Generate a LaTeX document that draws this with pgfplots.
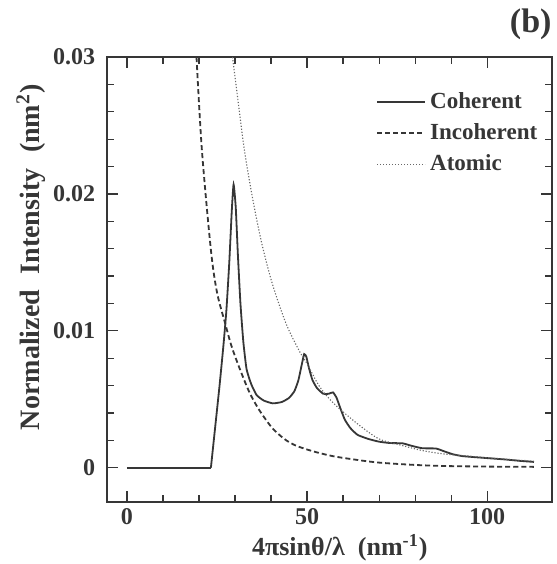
\documentclass[border=0pt]{standalone}
\usepackage{fontspec}
\setmainfont{Liberation Serif}
\usepackage{pgfplots}
\pgfplotsset{compat=1.18}
\definecolor{ink}{HTML}{363636}
\begin{document}
\begin{tikzpicture}
\begin{axis}[
    width=222pt, height=222pt, scale only axis,
    xmin=-5.5, xmax=118, ymin=-0.0025, ymax=0.03,
    xtick={0,50,100}, xticklabels={0,50,100},
    ytick={0,0.01,0.02,0.03}, yticklabels={0,0.01,0.02,0.03},
    minor x tick num=4, minor y tick num=4,
    tick align=inside, major tick length=5.5pt, minor tick length=3.5pt,
    axis line style={ink, line width=0.8pt},
    every tick/.style={ink, line width=0.6pt},
    ticklabel style={font=\bfseries\fontsize{12}{12}\selectfont, text=ink},
    yticklabel style={xshift=-2.5pt},
    scaled y ticks=false,
    xlabel={4πsinθ/λ\ \ (nm\textsuperscript{-1})},
    ylabel={Normalized\hspace{0.55em}Intensity\hspace{0.55em}(nm\textsuperscript{2})},
    xlabel style={font=\bfseries\fontsize{13}{13}\selectfont, text=ink,
        at={(axis description cs:0.523,0)}, anchor=center, yshift=-23pt},
    ylabel style={font=\bfseries\fontsize{14}{14}\selectfont, text=ink,
        at={([xshift=-38pt]axis description cs:0,0.55)}, anchor=center},
    legend style={at={(0.604,0.93)}, anchor=north west, draw=none, fill=none,
        font=\bfseries\fontsize{11.5}{11.5}\selectfont, text=ink,
        row sep=2pt, inner sep=0pt},
    legend cell align=left,
    legend image code/.code={\draw[#1] (0pt,0pt) -- (20pt,0pt); \path (0pt,0pt) -- (24pt,0pt);},
    clip=true,
]
\addplot[ink, line width=0.9pt, forget plot] coordinates {(0,0) (23.3,0)};
\addplot[ink, line width=0.9pt, smooth, tension=0.3] coordinates {
(23.3,0) (24.5,0.003) (25.7,0.006) (26.8,0.009)
(27.6,0.0115) (28.4,0.0150) (29.1,0.0188) (29.6,0.0207) (30.2,0.0190)
(30.8,0.0155) (31.5,0.0120) (32.3,0.0092) (33.2,0.0072) (34.5,0.0061)
(36,0.0053) (38,0.0049) (40.5,0.0047) (43,0.0048) (45,0.0051) (46.5,0.0056)
(47.6,0.0064) (48.5,0.0075) (49.2,0.0083) (49.8,0.0081) (50.5,0.0073)
(51.5,0.0064) (52.8,0.0058) (54.5,0.0054) (56,0.0054) (57.2,0.0055)
(58.2,0.0051) (59.3,0.0043) (60.5,0.0035) (62,0.0029) (64,0.0024)
(67,0.0021) (70,0.0019) (73,0.0018) (76.5,0.00178) (79,0.0016)
(82,0.00142) (85.8,0.0014) (88,0.0012) (90.5,0.00098) (93,0.00085)
(96,0.00078) (100,0.0007) (105,0.0006) (109,0.0005) (113,0.00042)
};
\addlegendentry{Coherent}
\addplot[ink, line width=0.9pt, dash pattern=on 2.5pt off 1.5pt, smooth] coordinates {
(19.3,0.0300) (20.8,0.0232) (23.3,0.0159) (25,0.0128) (27.3,0.0105)
(29,0.0089) (31.2,0.0073) (34,0.0055) (36.75,0.0042) (40,0.0030)
(42.3,0.0024) (44.2,0.0020) (47,0.0016) (51.6,0.0012) (57,0.00085)
(63,0.0006) (70,0.00037) (80,0.0002) (88.6,0.00012) (100,0.00008)
(113,0.00006)
};
\addlegendentry{Incoherent}
\addplot[ink!75, line width=0.55pt, dash pattern=on 0.6pt off 0.9pt, smooth] coordinates {
(29.3,0.0300) (30.5,0.0275) (32.6,0.0232) (35,0.0195) (37.5,0.0163)
(40.4,0.0134) (44.2,0.0105) (47.9,0.0085) (50,0.0076) (53.4,0.00595)
(57,0.0048) (60.8,0.0039) (65,0.0030) (70,0.0021) (76,0.00165)
(82,0.00125) (88,0.0010) (94.2,0.00086) (100,0.00072) (106,0.0006)
(113,0.00048)
};
\addlegendentry{Atomic}
\coordinate (bl) at (rel axis cs:0,0);
\coordinate (tr) at (rel axis cs:1,1);
\end{axis}
\node[anchor=south east, inner sep=0pt, font=\bfseries\fontsize{17}{17}\selectfont, text=ink]
  at ([yshift=8.5pt]tr) {(b)};
\pgfresetboundingbox
\path ([shift={(-53.5pt,-31pt)}]bl) rectangle ([shift={(2.5pt,28.5pt)}]tr);
\end{tikzpicture}
\end{document}
